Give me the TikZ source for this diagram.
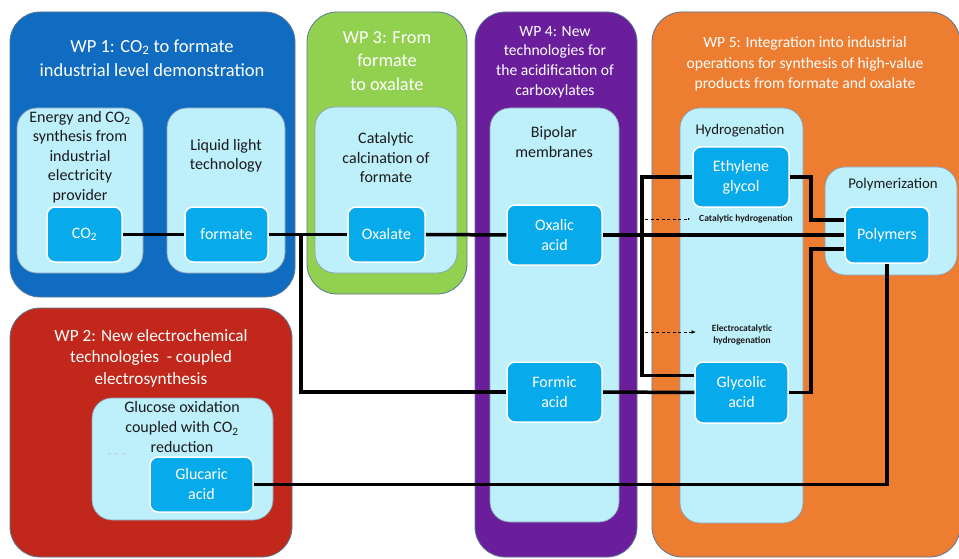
\documentclass[tikz,border=0pt]{standalone}
\usepackage{fontspec}
\setmainfont{Carlito}
\usetikzlibrary{arrows.meta}
\definecolor{wpblue}{HTML}{106CC0}
\definecolor{wpgreen}{HTML}{92D050}
\definecolor{wppurple}{HTML}{6A1E9C}
\definecolor{wporange}{HTML}{ED7D31}
\definecolor{wpred}{HTML}{C1281B}
\definecolor{lightcyan}{HTML}{BEF0FB}
\definecolor{nodeblue}{HTML}{07AAEA}
\definecolor{edgegray}{HTML}{5A7896}
\definecolor{txtdark}{HTML}{1A1A1A}
\begin{document}
\begin{tikzpicture}[x=1pt,y=-1pt,
  outerbox/.style={draw=edgegray, line width=0.8pt, rounded corners=30pt},
  innerbox/.style={fill=lightcyan, draw=edgegray!70, line width=0.7pt, rounded corners=20pt},
  prod/.style={fill=nodeblue, draw=white, line width=1.5pt, rounded corners=8pt, text=white,
    align=center, font=\fontsize{16}{20}\selectfont, inner sep=0pt},
  wptitle/.style={text=white, align=center},
  lbl/.style={text=txtdark, align=center, font=\fontsize{16}{19.5}\selectfont},
  smalllbl/.style={text=txtdark, align=center, font=\fontsize{9.5}{12.5}\selectfont\bfseries},
  conn/.style={line width=3.5pt, black},
  hint/.style={dashed, line width=0.9pt, black, dash pattern=on 3pt off 2.5pt},
]
\useasboundingbox (0,0) rectangle (959,559);
\clip (0,0) rectangle (959,559);

% outer work-package boxes
\path[outerbox, fill=wpblue] (10,12) rectangle (295,297);
\path[outerbox, fill=wpgreen] (307,12) rectangle (467,294);
\path[outerbox, fill=wppurple] (475,12) rectangle (637,557);
\path[outerbox, fill=wporange] (652,12) rectangle (960,557);
\path[outerbox, fill=wpred] (10,308) rectangle (292,557);

% inner boxes
\path[innerbox] (17,108) rectangle (143,273);
\path[innerbox] (167,108) rectangle (285,273);
\path[innerbox] (315,107) rectangle (457,273);
\path[innerbox] (490,108) rectangle (619,522);
\path[innerbox] (680,108) rectangle (803,523);
\path[innerbox] (825,167) rectangle (957,275);
\path[innerbox] (92,398) rectangle (273,520);

% titles
\node[wptitle, font=\fontsize{18.5}{24}\selectfont] (t1) at (152,58)
  {WP 1: CO\textsubscript{2} to formate\\industrial level demonstration};
\node[wptitle, font=\fontsize{18.3}{23.5}\selectfont] (t3) at (387,61)
  {WP 3: From\\formate\\to oxalate};
\node[wptitle, font=\fontsize{15.6}{19.7}\selectfont] (t4) at (555,62)
  {WP 4: New\\technologies for\\the acidification of\\carboxylates};
\node[wptitle, font=\fontsize{15.6}{20.5}\selectfont] (t5) at (805,64)
  {WP 5: Integration into industrial\\operations for synthesis of high-value\\products from formate and oxalate};
\node[wptitle, font=\fontsize{17.2}{21.5}\selectfont] (t2) at (151,358)
  {WP 2: New electrochemical\\technologies \ - coupled\\electrosynthesis};

% inner labels
\node[lbl] (l1) at (80,157) {Energy and CO\textsubscript{2}\\synthesis from\\industrial\\electricity\\provider};
\node[lbl] (l2) at (226,156) {Liquid light\\technology};
\node[lbl] (l3) at (386,158) {Catalytic\\calcination of\\formate};
\node[lbl] (l4) at (554,142) {Bipolar\\membranes};
\node[lbl, font=\fontsize{14.8}{19}\selectfont] (l5) at (740,131) {Hydrogenation};
\node[lbl, font=\fontsize{14.8}{19}\selectfont] (l6) at (893,185) {Polymerization};
\node[lbl, font=\fontsize{16}{20}\selectfont] (l7) at (182,427) {Glucose oxidation\\coupled with CO\textsubscript{2}\\reduction};

% product nodes
\node[prod, minimum width=75, minimum height=55] (co2) at (84.5,234.5) {CO\textsubscript{2}};
\node[prod, minimum width=83, minimum height=55] (formate) at (226.5,234.5) {formate};
\node[prod, minimum width=77, minimum height=55] (oxalate) at (386.5,234.5) {Oxalate};
\node[prod, minimum width=95, minimum height=60] (oxalic) at (554.5,235) {Oxalic\\acid};
\node[prod, minimum width=95, minimum height=60] (formic) at (554.5,392) {Formic\\acid};
\node[prod, minimum width=96, minimum height=60] (eg) at (741,177) {Ethylene\\glycol};
\node[prod, minimum width=93, minimum height=61] (gly) at (741.5,392.5) {Glycolic\\acid};
\node[prod, minimum width=84, minimum height=56] (poly) at (887,235) {Polymers};
\node[prod, minimum width=103, minimum height=55] (glu) at (201.5,484.5) {Glucaric\\acid};

% small process labels
\node[smalllbl] (cath) at (746,219) {Catalytic hydrogenation};
\node[smalllbl] (elh) at (742,335) {Electrocatalytic\\hydrogenation};

% connectors
\coordinate (j1) at (301,235);
\coordinate (j2) at (642,235);
\coordinate (m1) at (811,0);
\coordinate (glyin) at ([yshift=17pt]gly.west);
\coordinate (pin1) at ([yshift=15pt]poly.west);
\coordinate (pin3) at ([yshift=-14pt]poly.west);

\draw[conn] (co2) -- (formate);
\draw[conn] (formate) -- (oxalate);
\draw[conn] (j1) |- (formic);
\draw[conn] (oxalate) -- (oxalic);
\draw[conn] (oxalic) -- (poly);
\draw[conn] (j2) |- (eg.west);
\draw[conn] (j2) |- (glyin);
\draw[conn] (formic) -- (gly);
\draw[conn] (eg.east) -| (m1 |- pin1) -- (pin1);
\draw[conn] (gly.east) -| (m1 |- pin3) -- (pin3);
\draw[conn] (poly) |- (glu);

% dashed hints
\coordinate (cat0) at (645,219);
\coordinate (cat1) at (690,219);
\coordinate (el0) at (645,332);
\coordinate (el1) at (696,332);
\draw[hint, -{Latex[length=2pt,width=2pt]}] (cat0) -- (cat1);
\draw[hint, -{Latex[length=4.5pt,width=4pt]}] (el0) -- (el1);
\coordinate (fd0) at (108,453);
\coordinate (fd1) at (130,453);
\draw[dashed, gray!45, line width=0.8pt, dash pattern=on 3pt off 4pt] (fd0) -- (fd1);
\end{tikzpicture}
\end{document}
